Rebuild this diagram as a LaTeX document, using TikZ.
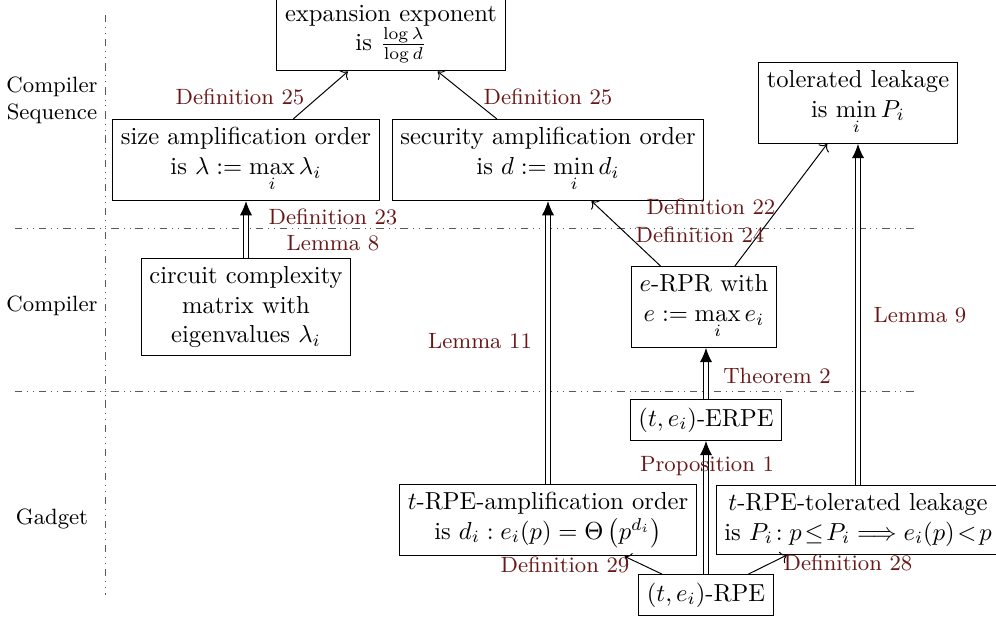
\documentclass[tikz,border=0pt]{standalone}
\usepackage{amsmath}
\usepackage{xcolor}
\usepackage{tikz}
\usetikzlibrary{arrows.meta}

\definecolor{refred}{RGB}{105,24,24}
\tikzset{
  box/.style={draw, align=center},
  lbl/.style={text=refred, font=\small},
  side/.style={font=\small, align=center},
  imp/.style={double, double distance=1.5pt, -{Latex[length=5.8pt,width=5pt]}},
  sep/.style={dash dot dot, black!65},
}

\begin{document}
\begin{tikzpicture}[x=0.0143cm, y=-0.0143cm]
\useasboundingbox (0,0) rectangle (996,619);
% levels
\draw[sep] (105,15) -- (105,595);
\draw[sep] (15,228) -- (915,228);
\draw[sep] (15,391) -- (915,391);
\node[side] (seqlab) at (52,100) {Compiler\\Sequence};
\node[side] (complab) at (52,306) {Compiler};
\node[side] (gadlab) at (52,519) {Gadget};
% boxes
\node[box] (exp) at (391,34) {expansion exponent\\is $\frac{\log\lambda}{\log d}$};
\node[box] (size) at (246,160) {size amplification order\\is $\lambda:=\max\limits_i\lambda_i$};
\node[box] (sec) at (548,160) {security amplification order\\is $d:=\min\limits_i d_i$};
\node[box] (tol) at (858,103) {tolerated leakage\\is $\min\limits_i P_i$};
\node[box] (circ) at (246,307) {circuit complexity\\matrix with\\eigenvalues $\lambda_i$};
\node[box] (erpr) at (704,307) {$e$-RPR with\\$e:=\max\limits_i e_i$};
\node[box] (erpe) at (706,420) {$(t,e_i)$-ERPE};
\node[box] (tamp) at (548,520) {$t$-RPE-amplification order\\is $d_i:e_i(p)=\Theta\left(p^{d_i}\right)$};
\node[box] (ttol) at (858,520) {$t$-RPE-tolerated leakage\\is $P_i\!:p\!\leq\!P_i\Longrightarrow e_i(p)\!<\!p$};
\node[box] (rpe) at (706,595) {$(t,e_i)$-RPE};
% arrows
\draw[->] (size) -- (exp);
\draw[->] (sec) -- (exp);
\draw[imp] (circ) -- (size);
\draw[->] (erpr) -- (sec);
\draw[->] (erpr) -- (tol);
\draw[imp] (erpe) -- (erpe |- erpr.south);
\draw[imp] (rpe) -- (erpe);
\draw[imp] (tamp) -- (sec);
\draw[imp] (ttol) -- (tol);
\draw[->] (rpe) -- (tamp);
\draw[->] (rpe) -- (ttol);
% labels
\node[lbl] (def25a) at (240,97) {Definition 25};
\node[lbl] (def25b) at (548,97) {Definition 25};
\node[lbl] (def23) at (333,217) {Definition 23};
\node[lbl] (lem8) at (333,243) {Lemma 8};
\node[lbl] (def22) at (711,207) {Definition 22};
\node[lbl] (def24) at (700,235) {Definition 24};
\node[lbl] (lem11) at (480,341) {Lemma 11};
\node[lbl] (lem9) at (920,315) {Lemma 9};
\node[lbl] (thm2) at (777,376) {Theorem 2};
\node[lbl] (prop1) at (707,466) {Proposition 1};
\node[lbl] (def29) at (565,565) {Definition 29};
\node[lbl] (def28) at (848,563) {Definition 28};
\end{tikzpicture}
\end{document}
